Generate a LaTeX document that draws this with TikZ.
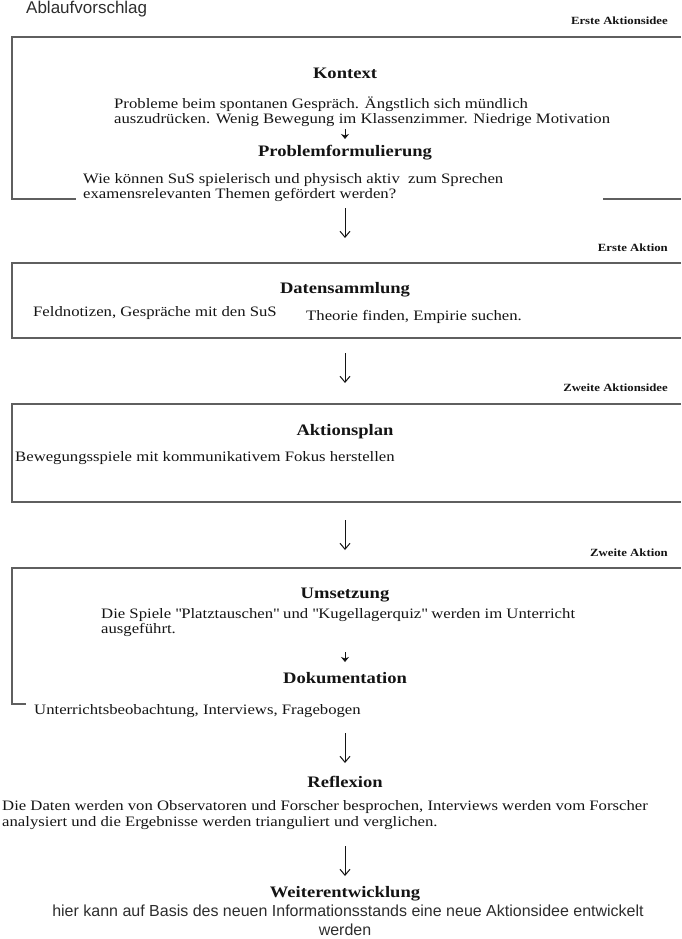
\documentclass[tikz,border=0pt]{standalone}
\usepackage{fontspec}
\setmainfont{Liberation Serif}[FakeStretch=1.16]
\newfontfamily\ablaufsans{Liberation Sans}
\usetikzlibrary{arrows.meta,positioning}
\definecolor{rahmengrau}{RGB}{95,95,95}
\definecolor{schrift}{RGB}{20,20,20}
\definecolor{sansgrau}{RGB}{45,45,45}

\tikzset{
  rahmen/.style={rahmengrau,line width=1.3pt},
  titel/.style={font=\fontsize{16}{18}\selectfont\bfseries,schrift,anchor=base,inner sep=0pt},
  phase/.style={font=\fontsize{11}{13}\selectfont\bfseries,schrift,anchor=base east,inner sep=0pt},
  zeile/.style={font=\fontsize{14.4}{16}\selectfont,schrift,anchor=base west,inner sep=0pt},
  sanszeile/.style={font=\ablaufsans\fontsize{16}{18}\selectfont,sansgrau,anchor=base,inner sep=0pt},
  pfeil/.style={-{Straight Barb[length=6pt,width=10pt]},line width=1pt,schrift},
  kleinpfeil/.style={-{Stealth[length=5pt,width=8pt,inset=1.5pt]},line width=1pt,schrift}
}

\begin{document}
\begin{tikzpicture}[x=1pt,y=-1pt]
\useasboundingbox (0,0) rectangle (681,939);
\node[font=\ablaufsans\fontsize{17}{19}\selectfont,sansgrau,anchor=base west,inner sep=0pt] (ablauf) at (26,14) {Ablaufvorschlag};

% Erste Aktionsidee
\node[phase] (ph1) at (668,25) {Erste Aktionsidee};
\draw[rahmen] (681,37) -- (12,37) -- (12,199) -- (76,199);
\draw[rahmen] (603,199) -- (681,199);
\node[titel] (kontext) at (345,79) {Kontext};
\node[zeile] (kon1) at (114,109) {Probleme beim spontanen Gespräch. Ängstlich sich mündlich};
\node[zeile] (kon2) at (114,124) {auszudrücken. Wenig Bewegung im Klassenzimmer. Niedrige Motivation};
\coordinate (k1o) at (345,129);
\coordinate (k1u) at (345,139);
\draw[kleinpfeil] (k1o) -- (k1u);
\node[titel] (problem) at (345,156) {Problemformulierung};
\node[zeile] (pro1) at (83,183) {Wie können SuS spielerisch und physisch aktiv\ \ zum Sprechen};
\node[zeile] (pro2) at (83,198) {examensrelevanten Themen gefördert werden?};

\coordinate (p1o) at (345,208);
\coordinate (p1u) at (345,238);
\draw[pfeil] (p1o) -- (p1u);

% Erste Aktion
\node[phase] (ph2) at (668,251) {Erste Aktion};
\draw[rahmen] (681,263) -- (12,263) -- (12,338) -- (681,338);
\node[titel] (daten) at (345,293) {Datensammlung};
\node[zeile] (dat1) at (33,316) {Feldnotizen, Gespräche mit den SuS};
\node[zeile] (dat2) at (306,320) {Theorie finden, Empirie suchen.};

\coordinate (p2o) at (345,353);
\coordinate (p2u) at (345,383);
\draw[pfeil] (p2o) -- (p2u);

% Zweite Aktionsidee
\node[phase] (ph3) at (668,391) {Zweite Aktionsidee};
\draw[rahmen] (681,404) -- (12,404) -- (12,502) -- (681,502);
\node[titel] (plan) at (345,435) {Aktionsplan};
\node[zeile] (pla1) at (15,461) {Bewegungsspiele mit kommunikativem Fokus herstellen};

\coordinate (p3o) at (345,520);
\coordinate (p3u) at (345,550);
\draw[pfeil] (p3o) -- (p3u);

% Zweite Aktion
\node[phase] (ph4) at (668,556) {Zweite Aktion};
\draw[rahmen] (681,568) -- (12,568) -- (12,704) -- (26,704);
\node[titel] (umsetz) at (345,598) {Umsetzung};
\node[zeile] (ums1) at (101,618) {Die Spiele \textquotedbl Platztauschen\textquotedbl{} und \textquotedbl Kugellagerquiz\textquotedbl{} werden im Unterricht};
\node[zeile] (ums2) at (101,633) {ausgeführt.};
\coordinate (k2o) at (345,652);
\coordinate (k2u) at (345,662);
\draw[kleinpfeil] (k2o) -- (k2u);
\node[titel] (doku) at (345,683) {Dokumentation};
\node[zeile] (dok1) at (34,714) {Unterrichtsbeobachtung, Interviews, Fragebogen};

\coordinate (p4o) at (345,733);
\coordinate (p4u) at (345,763);
\draw[pfeil] (p4o) -- (p4u);

% Reflexion und Weiterentwicklung
\node[titel] (reflex) at (345,787) {Reflexion};
\node[zeile] (ref1) at (2,810) {Die Daten werden von Observatoren und Forscher besprochen, Interviews werden vom Forscher};
\node[zeile] (ref2) at (2,826) {analysiert und die Ergebnisse werden trianguliert und verglichen.};

\coordinate (p5o) at (345,846);
\coordinate (p5u) at (345,876);
\draw[pfeil] (p5o) -- (p5u);

\node[titel] (weiter) at (345,897) {Weiterentwicklung};
\node[sanszeile] (wei1) at (348,916) {hier kann auf Basis des neuen Informationsstands eine neue Aktionsidee entwickelt};
\node[sanszeile] (wei2) at (345,935) {werden};
\end{tikzpicture}
\end{document}
